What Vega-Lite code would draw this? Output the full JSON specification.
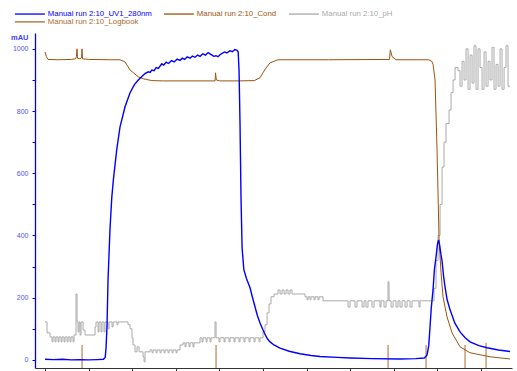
{
  "$schema": "https://vega.github.io/schema/vega-lite/v6.json",
  "width": 477,
  "height": 335,
  "autosize": {"type": "none"},
  "padding": {"left": 35, "top": 33, "right": 5, "bottom": 3},
  "background": "white",
  "config": {
    "view": {"stroke": null},
    "font": "Liberation Sans",
    "legend": {
      "orient": "none",
      "legendX": -24,
      "legendY": -23,
      "direction": "horizontal",
      "columns": 3,
      "symbolType": "M0,0H30",
      "symbolSize": 4,
      "symbolStrokeWidth": 1.3,
      "labelOffset": 29,
      "labelFontSize": 7.8,
      "labelFont": "Liberation Sans",
      "rowPadding": -1,
      "columnPadding": 8,
      "padding": 0,
      "gridAlign": "each",
      "title": null
    }
  },
  "datasets": {
    "uv": [
      {"x":0,"y":2},{"x":0.2,"y":1},{"x":0.4,"y":2},{"x":0.6,"y":0},{"x":0.8,"y":1},{"x":1.0,"y":0},{"x":1.2,"y":1},{"x":1.34,"y":2},{"x":1.38,"y":8},{"x":1.4,"y":40},{"x":1.422,"y":110},{"x":1.445,"y":257},{"x":1.49,"y":420},{"x":1.53,"y":520},{"x":1.567,"y":579},{"x":1.644,"y":675},{"x":1.72,"y":749},{"x":1.835,"y":814},{"x":1.95,"y":859},{"x":2.05,"y":885},{"x":2.14,"y":900},{"x":2.25,"y":915},{"x":2.3,"y":921},{"x":2.369,"y":926},{"x":2.41,"y":924},{"x":2.45,"y":932},{"x":2.5,"y":930},{"x":2.55,"y":940},{"x":2.6,"y":937},{"x":2.677,"y":952},{"x":2.72,"y":948},{"x":2.78,"y":957},{"x":2.83,"y":953},{"x":2.9,"y":962},{"x":2.96,"y":958},{"x":3.03,"y":967},{"x":3.096,"y":963},{"x":3.15,"y":970},{"x":3.2,"y":966},{"x":3.26,"y":974},{"x":3.326,"y":970},{"x":3.38,"y":977},{"x":3.44,"y":973},{"x":3.5,"y":980},{"x":3.555,"y":976},{"x":3.62,"y":984},{"x":3.68,"y":980},{"x":3.74,"y":988},{"x":3.784,"y":984},{"x":3.83,"y":980},{"x":3.87,"y":976},{"x":3.92,"y":978},{"x":3.968,"y":975},{"x":4.02,"y":982},{"x":4.07,"y":986},{"x":4.12,"y":990},{"x":4.17,"y":987},{"x":4.243,"y":994},{"x":4.3,"y":991},{"x":4.35,"y":998},{"x":4.404,"y":995},{"x":4.43,"y":990},{"x":4.45,"y":930},{"x":4.472,"y":760},{"x":4.495,"y":520},{"x":4.52,"y":360},{"x":4.56,"y":290},{"x":4.62,"y":262},{"x":4.702,"y":232},{"x":4.76,"y":200},{"x":4.817,"y":170},{"x":4.87,"y":143},{"x":4.931,"y":119},{"x":5.0,"y":96},{"x":5.046,"y":82},{"x":5.1,"y":68},{"x":5.161,"y":58},{"x":5.25,"y":48},{"x":5.39,"y":38},{"x":5.6,"y":28},{"x":5.849,"y":20},{"x":6.1,"y":14},{"x":6.307,"y":11},{"x":6.7,"y":8},{"x":7.0,"y":6},{"x":7.5,"y":4},{"x":8.142,"y":3},{"x":8.5,"y":4},{"x":8.7,"y":6},{"x":8.76,"y":15},{"x":8.8,"y":45},{"x":8.83,"y":106},{"x":8.86,"y":170},{"x":8.899,"y":225},{"x":8.93,"y":290},{"x":8.968,"y":331},{"x":9.0,"y":372},{"x":9.025,"y":386},{"x":9.05,"y":370},{"x":9.08,"y":340},{"x":9.106,"y":318},{"x":9.14,"y":270},{"x":9.174,"y":235},{"x":9.22,"y":195},{"x":9.289,"y":161},{"x":9.4,"y":118},{"x":9.518,"y":90},{"x":9.63,"y":72},{"x":9.748,"y":58},{"x":9.95,"y":46},{"x":10.138,"y":39},{"x":10.4,"y":32},{"x":10.665,"y":27}
    ],
    "cond": [
      {"x":0,"y":990},{"x":0.03,"y":975},{"x":0.07,"y":966},{"x":0.3,"y":965},{"x":0.6,"y":966},{"x":0.7,"y":968},{"x":0.72,"y":975},{"x":0.734,"y":1000},{"x":0.745,"y":970},{"x":0.8,"y":968},{"x":0.838,"y":972},{"x":0.849,"y":1000},{"x":0.86,"y":968},{"x":1.0,"y":966},{"x":1.5,"y":965},{"x":1.72,"y":965},{"x":1.835,"y":958},{"x":1.95,"y":932},{"x":2.14,"y":910},{"x":2.25,"y":904},{"x":2.45,"y":898},{"x":2.7,"y":897},{"x":3.9,"y":897},{"x":3.91,"y":923},{"x":3.93,"y":900},{"x":4.0,"y":897},{"x":4.45,"y":897},{"x":4.8,"y":898},{"x":4.93,"y":907},{"x":5.05,"y":935},{"x":5.16,"y":955},{"x":5.344,"y":965},{"x":6.5,"y":965},{"x":7.9,"y":966},{"x":7.92,"y":997},{"x":7.96,"y":975},{"x":8.05,"y":965},{"x":8.8,"y":965},{"x":8.87,"y":960},{"x":8.9,"y":950},{"x":8.945,"y":900},{"x":8.991,"y":675},{"x":9.037,"y":386},{"x":9.083,"y":280},{"x":9.128,"y":203},{"x":9.22,"y":138},{"x":9.335,"y":87},{"x":9.518,"y":42},{"x":9.748,"y":23},{"x":10.206,"y":10},{"x":10.665,"y":3}
    ],
    "ph": [
      {"x":0,"y":122},{"x":0.046,"y":87},{"x":0.115,"y":74},{"x":0.161,"y":58},{"x":0.183,"y":74},{"x":0.229,"y":58},{"x":0.252,"y":74},{"x":0.298,"y":58},{"x":0.321,"y":74},{"x":0.367,"y":58},{"x":0.39,"y":74},{"x":0.436,"y":58},{"x":0.459,"y":74},{"x":0.505,"y":58},{"x":0.528,"y":74},{"x":0.573,"y":58},{"x":0.596,"y":74},{"x":0.642,"y":58},{"x":0.665,"y":80},{"x":0.711,"y":212},{"x":0.734,"y":122},{"x":0.757,"y":90},{"x":0.78,"y":122},{"x":0.803,"y":80},{"x":0.826,"y":122},{"x":0.872,"y":96},{"x":0.917,"y":80},{"x":1.147,"y":106},{"x":1.17,"y":122},{"x":1.216,"y":90},{"x":1.239,"y":122},{"x":1.284,"y":90},{"x":1.307,"y":122},{"x":1.353,"y":90},{"x":1.376,"y":122},{"x":1.445,"y":100},{"x":1.468,"y":122},{"x":1.537,"y":106},{"x":1.56,"y":122},{"x":1.651,"y":113},{"x":1.674,"y":122},{"x":1.904,"y":113},{"x":1.95,"y":100},{"x":1.995,"y":70},{"x":2.018,"y":48},{"x":2.064,"y":26},{"x":2.11,"y":42},{"x":2.156,"y":26},{"x":2.248,"y":10},{"x":2.271,"y":-6},{"x":2.294,"y":26},{"x":2.408,"y":32},{"x":2.454,"y":23},{"x":2.477,"y":32},{"x":2.546,"y":23},{"x":2.569,"y":32},{"x":2.638,"y":23},{"x":2.661,"y":32},{"x":2.729,"y":23},{"x":2.752,"y":32},{"x":2.821,"y":23},{"x":2.844,"y":32},{"x":2.913,"y":23},{"x":2.936,"y":32},{"x":3.005,"y":23},{"x":3.028,"y":32},{"x":3.096,"y":48},{"x":3.165,"y":55},{"x":3.211,"y":42},{"x":3.234,"y":55},{"x":3.303,"y":42},{"x":3.326,"y":55},{"x":3.394,"y":42},{"x":3.417,"y":55},{"x":3.555,"y":71},{"x":3.601,"y":58},{"x":3.624,"y":71},{"x":3.693,"y":58},{"x":3.716,"y":71},{"x":3.784,"y":58},{"x":3.807,"y":71},{"x":3.899,"y":122},{"x":3.922,"y":71},{"x":3.991,"y":58},{"x":4.014,"y":71},{"x":4.106,"y":58},{"x":4.128,"y":71},{"x":4.22,"y":58},{"x":4.243,"y":71},{"x":4.335,"y":58},{"x":4.358,"y":71},{"x":4.45,"y":58},{"x":4.472,"y":71},{"x":4.564,"y":58},{"x":4.587,"y":71},{"x":4.679,"y":58},{"x":4.702,"y":71},{"x":4.794,"y":58},{"x":4.817,"y":71},{"x":4.908,"y":58},{"x":4.931,"y":71},{"x":5.0,"y":90},{"x":5.046,"y":113},{"x":5.092,"y":151},{"x":5.138,"y":180},{"x":5.183,"y":203},{"x":5.252,"y":212},{"x":5.344,"y":225},{"x":5.39,"y":212},{"x":5.436,"y":225},{"x":5.482,"y":212},{"x":5.528,"y":225},{"x":5.573,"y":212},{"x":5.619,"y":225},{"x":5.665,"y":212},{"x":5.963,"y":203},{"x":6.01,"y":193},{"x":6.032,"y":203},{"x":6.078,"y":193},{"x":6.1,"y":203},{"x":6.17,"y":193},{"x":6.193,"y":203},{"x":6.261,"y":193},{"x":6.284,"y":203},{"x":6.376,"y":190},{"x":6.95,"y":170},{"x":6.995,"y":190},{"x":7.11,"y":170},{"x":7.156,"y":190},{"x":7.271,"y":170},{"x":7.317,"y":190},{"x":7.362,"y":170},{"x":7.408,"y":190},{"x":7.5,"y":170},{"x":7.546,"y":190},{"x":7.683,"y":170},{"x":7.706,"y":190},{"x":7.775,"y":170},{"x":7.821,"y":190},{"x":7.867,"y":251},{"x":7.89,"y":190},{"x":7.936,"y":170},{"x":7.982,"y":190},{"x":8.05,"y":170},{"x":8.096,"y":190},{"x":8.142,"y":170},{"x":8.188,"y":190},{"x":8.257,"y":170},{"x":8.303,"y":190},{"x":8.372,"y":170},{"x":8.417,"y":190},{"x":8.578,"y":170},{"x":8.601,"y":190},{"x":8.922,"y":230},{"x":8.968,"y":320},{"x":9.014,"y":400},{"x":9.06,"y":500},{"x":9.106,"y":620},{"x":9.151,"y":700},{"x":9.197,"y":760},{"x":9.266,"y":804},{"x":9.312,"y":860},{"x":9.358,"y":900},{"x":9.404,"y":940},{"x":9.472,"y":930},{"x":9.518,"y":880},{"x":9.564,"y":960},{"x":9.61,"y":900},{"x":9.656,"y":1000},{"x":9.702,"y":870},{"x":9.748,"y":980},{"x":9.794,"y":890},{"x":9.839,"y":1010},{"x":9.885,"y":870},{"x":9.931,"y":1000},{"x":9.977,"y":940},{"x":10.023,"y":870},{"x":10.069,"y":990},{"x":10.115,"y":880},{"x":10.161,"y":960},{"x":10.206,"y":900},{"x":10.252,"y":1005},{"x":10.298,"y":870},{"x":10.344,"y":950},{"x":10.39,"y":880},{"x":10.436,"y":1000},{"x":10.482,"y":870},{"x":10.528,"y":940},{"x":10.573,"y":1010},{"x":10.619,"y":880},{"x":10.665,"y":880}
    ],
    "logbook": [
      {"x":0.849,"y":48},{"x":3.922,"y":48},{"x":7.867,"y":48},{"x":8.739,"y":48},{"x":9.633,"y":48},{"x":10.115,"y":55}
    ]
  },
  "encoding": {
    "x": {
      "field": "x", "type": "quantitative",
      "scale": {"domain": [-0.23, 10.71], "nice": false, "zero": false},
      "axis": {"values": [0,1,2,3,4,5,6,7,8,9,10], "labels": false, "title": null, "grid": false, "tickSize": 3, "domainColor": "#333333", "tickColor": "#333333"}
    },
    "y": {
      "field": "y", "type": "quantitative",
      "scale": {"domain": [-26, 1051], "nice": false, "zero": false},
      "axis": {
        "values": [0,100,200,300,400,500,600,700,800,900,1000],
        "labelExpr": "datum.value % 200 == 0 ? datum.label : ''",
        "format": "d",
        "grid": false,
        "domainColor": "#0000ff", "domainWidth": 1.3,
        "tickColor": "#0000ff", "tickSize": 3,
        "labelColor": "#5050ff", "labelFontSize": 7, "labelPadding": 4,
        "title": "mAU", "titleAngle": 0, "titleX": -7, "titleY": 4,
        "titleAlign": "right", "titleBaseline": "middle",
        "titleFontSize": 7.5, "titleColor": "#4040ff", "titleFontWeight": "bold"
      }
    }
  },
  "layer": [
    {
      "data": {"name": "ph"},
      "mark": {"type": "line", "interpolate": "step-after", "strokeWidth": 1},
      "encoding": {
        "color": {
          "datum": "Manual run 2:10_pH",
          "scale": {
            "domain": ["Manual run 2:10_UV1_280nm", "Manual run 2:10_Cond", "Manual run 2:10_pH", "Manual run 2:10_Logbook"],
            "range": ["#0000ff", "#9c5410", "#aaaaaa", "#a86a32"]
          },
          "legend": {
            "labelExpr": "datum.label == 'Manual run 2:10_Cond' ? datum.label + '        ' : datum.label",
            "encode": {"labels": {"update": {"fill": {"scale": "color", "field": "value"}}}}
          }
        }
      }
    },
    {
      "data": {"name": "logbook"},
      "mark": {"type": "rule", "strokeWidth": 1},
      "encoding": {
        "y2": {"datum": -26},
        "color": {"datum": "Manual run 2:10_Logbook"}
      }
    },
    {
      "data": {"name": "cond"},
      "mark": {"type": "line", "strokeWidth": 1},
      "encoding": {"color": {"datum": "Manual run 2:10_Cond"}}
    },
    {
      "data": {"name": "uv"},
      "mark": {"type": "line", "strokeWidth": 1.4},
      "encoding": {"color": {"datum": "Manual run 2:10_UV1_280nm"}}
    }
  ]
}
